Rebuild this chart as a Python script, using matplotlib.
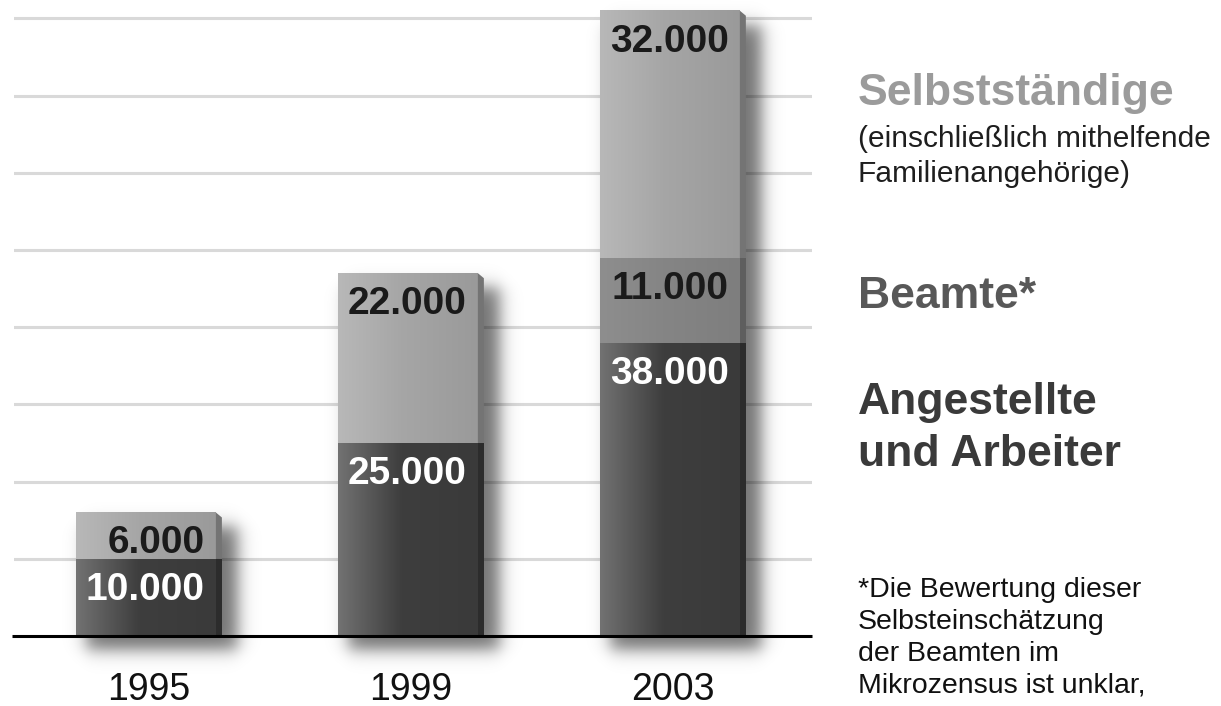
import matplotlib.pyplot as plt
import numpy as np
from matplotlib.patches import Polygon

plt.rcParams["font.family"] = ["Liberation Sans", "DejaVu Sans"]

years = ["1995", "1999", "2003"]
angestellte = [10000, 25000, 38000]
beamte = [0, 0, 11000]
selbststaendige = [6000, 22000, 32000]

W, H, DPI = 1221, 706, 100
BAR_W = 0.557
SIDE_PX = 6

# segment colours: (left, middle, right, side face)
seg_colors = [
    ("#727272", "#3e3e3e", "#3a3a3a", "#2c2c2c"),   # Angestellte und Arbeiter
    ("#8e8e8e", "#858585", "#7e7e7e", "#5e5e5e"),   # Beamte
    ("#b8b8b8", "#a6a6a6", "#9a9a9a", "#747474"),   # Selbststaendige
]
label_colors = ["white", "#1a1a1a", "#1a1a1a"]


def hex2rgb(h):
    h = h.lstrip("#")
    return np.array([int(h[i:i + 2], 16) / 255 for i in (0, 2, 4)])


def pt(px):
    return px * 72 / DPI


def ramp(t):
    return 0.5 * (1 + np.tanh(2.0 * t))


fig = plt.figure(figsize=(W / DPI, H / DPI), dpi=DPI)
ax = fig.add_axes([14 / W, 70 / H, 798 / W, 633 / H])
XLIM = (-0.515, 2.531)
YLIM = (0, 82000)
px_x = 798 / (XLIM[1] - XLIM[0])     # pixels per x unit
px_y = 633 / (YLIM[1] - YLIM[0])     # pixels per value unit

# gridlines
ax.set_yticks(np.arange(10000, 90000, 10000))
ax.yaxis.grid(True, color="#d9d9d9", lw=2.2, zorder=0)
ax.set_axisbelow(True)
ax.tick_params(left=False, labelleft=False, bottom=False, labelbottom=False)
for s in ax.spines.values():
    s.set_visible(False)

layers = [angestellte, beamte, selbststaendige]
totals = np.sum(layers, axis=0)

for i in range(len(years)):
    x0 = i - BAR_W / 2
    x1 = i + BAR_W / 2
    top = totals[i]

    # soft drop shadow (blurred box, offset right / down)
    sx0, sx1 = x0 + 10 / px_x, x1 + 16 / px_x
    sy0, sy1 = -14 / px_y, top - 14 / px_y
    ex0, ex1 = sx0 - 50 / px_x, sx1 + 50 / px_x
    ey0, ey1 = sy0 - 50 / px_y, sy1 + 50 / px_y
    nx = int((ex1 - ex0) * px_x)
    ny = int((ey1 - ey0) * px_y)
    gx = np.linspace(ex0, ex1, nx)
    gy = np.linspace(ey0, ey1, ny)
    blur = 20
    wx = ramp((gx - sx0) * px_x / blur) * ramp((sx1 - gx) * px_x / blur)
    wy = ramp((gy - sy0) * px_y / blur) * ramp((sy1 - gy) * px_y / blur)
    rgba = np.zeros((ny, nx, 4))
    rgba[..., 3] = 0.55 * np.outer(wy, wx)
    ax.imshow(rgba, extent=[ex0, ex1, ey0, ey1], origin="lower",
              aspect="auto", zorder=1, interpolation="bilinear", clip_on=False)

    bottom = 0
    side = SIDE_PX / px_x
    for k, vals in enumerate(layers):
        v = vals[i]
        if v == 0:
            continue
        y0, y1 = bottom, bottom + v
        cl, cm, cr, cs = [hex2rgb(c) for c in seg_colors[k]]
        t = np.linspace(0, 1, 200)
        grad = np.stack([np.interp(t, [0, 0.45, 1], [cl[c], cm[c], cr[c]])
                         for c in range(3)], axis=-1)[None, :, :]
        ax.imshow(grad, extent=[x0, x1 - side, y0, y1], origin="lower",
                  aspect="auto", zorder=2, interpolation="bilinear")
        is_top = (y1 == top)
        cut = 5 / px_y if is_top else 0
        ax.add_patch(Polygon([(x1 - side, y0), (x1, y0), (x1, y1 - cut),
                              (x1 - side, y1)], closed=True,
                             facecolor=seg_colors[k][3], edgecolor="none",
                             zorder=2))
        ax.annotate(f"{v:,}".replace(",", "."), xy=(x1, y1),
                    xytext=(pt(-17), pt(-41)), textcoords="offset points",
                    ha="right", va="baseline", fontsize=28, fontweight="bold",
                    color=label_colors[k], zorder=6)
        bottom = y1

    ax.annotate(years[i], xy=(i, 0), xytext=(0, pt(-64)),
                textcoords="offset points", ha="center", va="baseline",
                fontsize=27, color="#111111", annotation_clip=False)

ax.plot([XLIM[0] - 2 / px_x, XLIM[1]], [0, 0], color="black", lw=2.2,
        zorder=5, clip_on=False, solid_capstyle="butt")

ax.set_xlim(*XLIM)
ax.set_ylim(*YLIM)


def ftext(x, y, s, **kw):
    fig.text(x / W, 1 - y / H, s, va="baseline", ha="left", **kw)


ftext(858, 105, "Selbstständige", fontsize=32, fontweight="bold", color="#9b9b9b")
ftext(858, 147, "(einschließlich mithelfende", fontsize=21.5, color="#1e1e1e")
ftext(858, 182, "Familienangehörige)", fontsize=21.5, color="#1e1e1e")
ftext(858, 308, "Beamte*", fontsize=32, fontweight="bold", color="#585858")
ftext(858, 414, "Angestellte", fontsize=32, fontweight="bold", color="#3a3a3a")
ftext(858, 466, "und Arbeiter", fontsize=32, fontweight="bold", color="#3a3a3a")

footnote = ["*Die Bewertung dieser", "Selbsteinschätzung",
            "der Beamten im", "Mikrozensus ist unklar,"]
for j, line in enumerate(footnote):
    ftext(858, 597 + 32 * j, line, fontsize=20.5, color="#111111")

fig.savefig("out.png", dpi=DPI)
